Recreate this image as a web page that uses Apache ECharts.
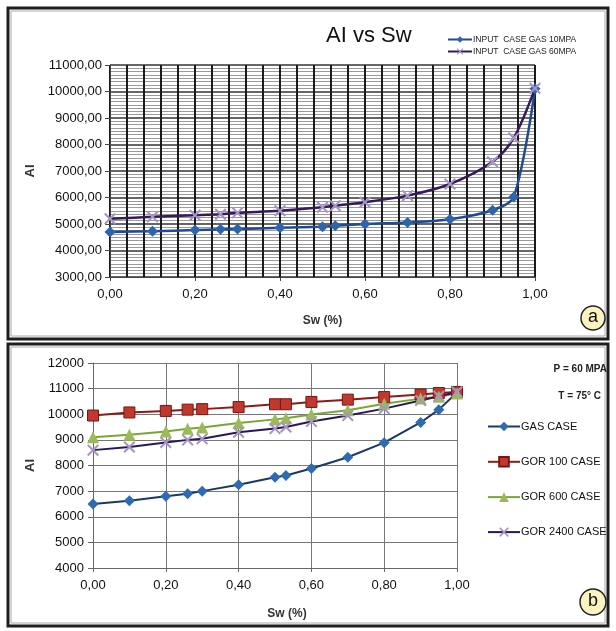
<!DOCTYPE html>
<html>
<head>
<meta charset="utf-8">
<script src="https://cdn.jsdelivr.net/npm/echarts@6/dist/echarts.min.js"></script>
<style>
	html, body { margin: 0; padding: 0; background: #fff; }
	#main { width: 616px; height: 631px; }
</style>
</head>
<body>
<div id="main"></div>
<script>
// Sw points, shared by every curve
var swValues = [0, 0.1, 0.2, 0.26, 0.3, 0.4, 0.5, 0.53, 0.6, 0.7, 0.8, 0.9, 0.95, 1.0];

// panel a
var gas10Values = [4700, 4730, 4770, 4800, 4810, 4860, 4900, 4930, 5000, 5060, 5180, 5520, 6020, 10100];
var gas60Values = [5200, 5270, 5330, 5370, 5420, 5500, 5630, 5690, 5820, 6070, 6510, 7350, 8250, 10120];

// panel b
var gasCaseValues = [6500, 6620, 6800, 6900, 7000, 7250, 7540, 7610, 7880, 8320, 8890, 9680, 10180, 10850];
var gor100Values = [9950, 10070, 10130, 10180, 10200, 10280, 10390, 10390, 10480, 10570, 10670, 10770, 10830, 10870];
var gor600Values = [9100, 9200, 9330, 9430, 9480, 9660, 9800, 9840, 9990, 10160, 10410, 10610, 10680, 10810];
var gor2400Values = [8600, 8720, 8900, 9000, 9040, 9300, 9440, 9500, 9720, 9950, 10220, 10540, 10700, 10870];

var seriesNamesA = ['INPUT  CASE GAS 10MPA', 'INPUT  CASE GAS 60MPA'];
var seriesNamesB = ['GAS CASE', 'GOR 100 CASE', 'GOR 600 CASE', 'GOR 2400 CASE'];

var X_SYMBOL = 'path://M0,1.2L1.2,0L5,3.8L8.8,0L10,1.2L6.2,5L10,8.8L8.8,10L5,6.2L1.2,10L0,8.8L3.8,5Z';
var FONT = 'Liberation Sans, Arial, sans-serif';

function pairs(values) {
	var out = [];
	for (var i = 0; i < swValues.length; i++) {
		out.push([swValues[i], values[i]]);
	}
	return out;
}

function commaFixed(v) {
	return v.toFixed(2).replace('.', ',');
}

var myChart = echarts.init(document.getElementById('main'));

var option = {
	backgroundColor: '#fff',
	animation: false,
	title: {
		text: 'AI vs Sw',
		left: 321,
		top: 20,
		textStyle: { fontFamily: FONT, fontSize: 22, fontWeight: 'normal', color: '#111' }
	},
	legend: [{
		data: seriesNamesA,
		orient: 'vertical',
		left: 442,
		top: 30,
		itemWidth: 24,
		itemHeight: 8,
		itemGap: 3,
		textStyle: { fontFamily: FONT, fontSize: 8.5, color: '#222', padding: [0, 0, 0, -4] }
	}, {
		data: seriesNamesB,
		orient: 'vertical',
		left: 482,
		top: 416,
		itemWidth: 32,
		itemHeight: 12,
		itemGap: 24,
		textStyle: { fontFamily: FONT, fontSize: 11, color: '#111', padding: [0, 0, 0, -4] }
	}],
	grid: [
		{ left: 110, top: 65, width: 425, height: 212 },
		{ left: 93, top: 363, width: 364, height: 205 }
	],
	xAxis: [{
		gridIndex: 0,
		type: 'value',
		min: 0,
		max: 1,
		interval: 0.2,
		name: 'Sw (%)',
		nameLocation: 'middle',
		nameGap: 38,
		nameTextStyle: { fontFamily: FONT, fontSize: 12, fontWeight: 'bold', color: '#333' },
		axisLine: { lineStyle: { color: '#444', width: 1 } },
		axisTick: { show: true, length: 4, lineStyle: { color: '#444' } },
		axisLabel: { fontFamily: FONT, fontSize: 13, color: '#111', margin: 11, formatter: commaFixed },
		splitLine: { show: true, lineStyle: { color: '#1a1a1a', width: 2 } },
		minorTick: { show: false, splitNumber: 5 },
		minorSplitLine: { show: true, lineStyle: { color: '#1a1a1a', width: 2 } }
	}, {
		gridIndex: 1,
		type: 'value',
		min: 0,
		max: 1,
		interval: 0.2,
		name: 'Sw (%)',
		nameLocation: 'middle',
		nameGap: 40,
		nameTextStyle: { fontFamily: FONT, fontSize: 12, fontWeight: 'bold', color: '#333', padding: [0, 0, 0, 24] },
		axisLine: { lineStyle: { color: '#666', width: 1 } },
		axisTick: { show: true, length: 4, lineStyle: { color: '#666' } },
		axisLabel: { fontFamily: FONT, fontSize: 13, color: '#111', margin: 11, formatter: commaFixed },
		splitLine: { show: true, lineStyle: { color: '#777', width: 1 } }
	}],
	yAxis: [{
		gridIndex: 0,
		type: 'value',
		min: 3000,
		max: 11000,
		interval: 1000,
		name: 'AI',
		nameLocation: 'middle',
		nameGap: 72,
		nameTextStyle: { fontFamily: FONT, fontSize: 13, fontWeight: 'bold', color: '#333' },
		axisLine: { show: true, lineStyle: { color: '#444', width: 1 } },
		axisTick: { show: true, length: 5, lineStyle: { color: '#444' } },
		axisLabel: { fontFamily: FONT, fontSize: 13, color: '#111', margin: 8, formatter: commaFixed },
		splitLine: { show: true, lineStyle: { color: '#333', width: 1.5 } },
		minorTick: { show: false, splitNumber: 8 },
		minorSplitLine: { show: true, lineStyle: { color: '#999', width: 1 } }
	}, {
		gridIndex: 1,
		type: 'value',
		min: 4000,
		max: 12000,
		interval: 1000,
		name: 'AI',
		nameLocation: 'middle',
		nameGap: 53,
		nameTextStyle: { fontFamily: FONT, fontSize: 13, fontWeight: 'bold', color: '#333' },
		axisLine: { show: true, lineStyle: { color: '#666', width: 1 } },
		axisTick: { show: true, length: 5, lineStyle: { color: '#666' } },
		axisLabel: {
			fontFamily: FONT, fontSize: 13, color: '#111', margin: 9,
			formatter: function(v) { return String(v); }
		},
		splitLine: { show: true, lineStyle: { color: '#777', width: 1 } }
	}],
	series: [{
		name: seriesNamesA[0],
		type: 'line',
		xAxisIndex: 0,
		yAxisIndex: 0,
		smooth: 0.3,
		symbol: 'diamond',
		symbolSize: 11,
		lineStyle: { color: '#1F4A93', width: 2.5 },
		itemStyle: { color: '#2F63AC' },
		data: pairs(gas10Values)
	}, {
		name: seriesNamesA[1],
		type: 'line',
		xAxisIndex: 0,
		yAxisIndex: 0,
		smooth: 0.3,
		symbol: X_SYMBOL,
		symbolSize: 12,
		lineStyle: { color: '#35195A', width: 2.5 },
		itemStyle: { color: '#A594C4' },
		data: pairs(gas60Values)
	}, {
		name: seriesNamesB[0],
		type: 'line',
		xAxisIndex: 1,
		yAxisIndex: 1,
		symbol: 'diamond',
		symbolSize: 11,
		lineStyle: { color: '#1C3766', width: 2 },
		itemStyle: { color: '#2E6BB2' },
		data: pairs(gasCaseValues)
	}, {
		name: seriesNamesB[1],
		type: 'line',
		xAxisIndex: 1,
		yAxisIndex: 1,
		symbol: 'rect',
		symbolSize: 11,
		lineStyle: { color: '#8C1A17', width: 2 },
		itemStyle: { color: '#C0392F', borderColor: '#7A1512', borderWidth: 1 },
		data: pairs(gor100Values)
	}, {
		name: seriesNamesB[2],
		type: 'line',
		xAxisIndex: 1,
		yAxisIndex: 1,
		symbol: 'triangle',
		symbolSize: 12,
		lineStyle: { color: '#7BA634', width: 2 },
		itemStyle: { color: '#9BBB59' },
		data: pairs(gor600Values)
	}, {
		name: seriesNamesB[3],
		type: 'line',
		xAxisIndex: 1,
		yAxisIndex: 1,
		symbol: X_SYMBOL,
		symbolSize: 12,
		lineStyle: { color: '#28185A', width: 2 },
		itemStyle: { color: '#A594C4' },
		data: pairs(gor2400Values)
	}],
	graphic: [
		// panel frames
		{ type: 'rect', shape: { x: 8, y: 8, width: 600, height: 331 }, style: { fill: 'none', stroke: '#1e1e1e', lineWidth: 3 }, silent: true },
		{ type: 'rect', shape: { x: 11, y: 11, width: 594, height: 325 }, style: { fill: 'none', stroke: '#aaa', lineWidth: 1 }, silent: true },
		{ type: 'rect', shape: { x: 8, y: 344, width: 600, height: 282 }, style: { fill: 'none', stroke: '#1e1e1e', lineWidth: 3 }, silent: true },
		{ type: 'rect', shape: { x: 11, y: 347, width: 594, height: 276 }, style: { fill: 'none', stroke: '#aaa', lineWidth: 1 }, silent: true },
		// conditions text
		{ type: 'text', style: { text: 'P = 60 MPA', x: 607, y: 369, align: 'right', verticalAlign: 'middle', font: 'bold 10px ' + FONT, fill: '#222' } },
		{ type: 'text', style: { text: 'T = 75° C', x: 601, y: 396, align: 'right', verticalAlign: 'middle', font: 'bold 10px ' + FONT, fill: '#222' } },
		// panel labels
		{ type: 'circle', shape: { cx: 593, cy: 318, r: 12 }, style: { fill: '#FBF3C0', stroke: '#222', lineWidth: 1.5 } },
		{ type: 'text', style: { text: 'a', x: 593, y: 317, align: 'center', verticalAlign: 'middle', font: '18px ' + FONT, fill: '#111' } },
		{ type: 'circle', shape: { cx: 593, cy: 602, r: 13 }, style: { fill: '#FBF3C0', stroke: '#222', lineWidth: 1.5 } },
		{ type: 'text', style: { text: 'b', x: 593, y: 601, align: 'center', verticalAlign: 'middle', font: '18px ' + FONT, fill: '#111' } }
	]
};

myChart.setOption(option);
</script>
</body>
</html>
